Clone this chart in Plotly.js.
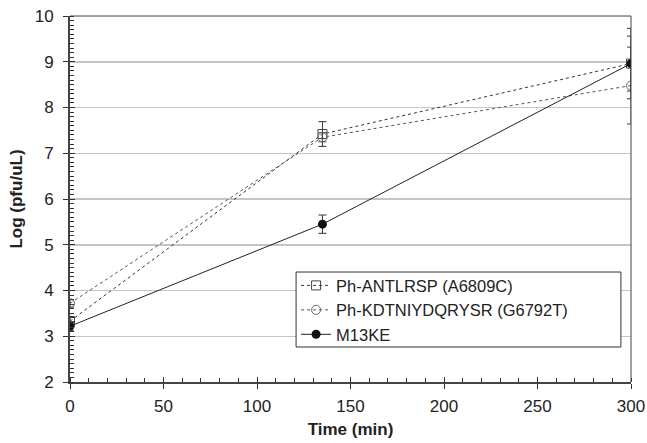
<!DOCTYPE html>
<html>
<head>
<meta charset="utf-8">
<script src="https://cdn.plot.ly/plotly-3.0.1.min.js"></script>
<style>html,body{margin:0;padding:0;background:#fff;}#chart{width:647px;height:443px;}</style>
</head>
<body>
<div id="chart"></div>
<script>
var time = [0, 135, 300];
var seriesNames = ['Ph-ANTLRSP (A6809C)', 'Ph-KDTNIYDQRYSR (G6792T)', 'M13KE'];
var antlrsp = [3.33, 7.42, 8.96];
var antlrspErr = [0.1, 0.27, 0.6];
var kdt = [3.72, 7.35, 8.48];
var kdtErr = [0.08, 0.1, 0.84];
var m13ke = [3.22, 5.45, 8.96];
var m13keErr = [0.1, 0.2, 0.77];
var xTicks = [0, 50, 100, 150, 200, 250, 300];
var yTicks = [2, 3, 4, 5, 6, 7, 8, 9, 10];

var FONT = 'Liberation Sans, Arial, sans-serif';

var traces = [
  {x: time, y: antlrsp, name: seriesNames[0], type: 'scatter', mode: 'lines+markers',
   line: {color: '#333', width: 1, dash: 'dot'},
   marker: {symbol: 'square-open', size: 9, color: '#444', line: {width: 1}},
   error_y: {type: 'data', array: antlrspErr, color: '#333', thickness: 1, width: 4}},
  {x: time, y: kdt, name: seriesNames[1], type: 'scatter', mode: 'lines+markers',
   line: {color: '#555', width: 1, dash: 'dot'},
   marker: {symbol: 'circle-open', size: 9, color: '#666', line: {width: 1}},
   error_y: {type: 'data', array: kdtErr, color: '#444', thickness: 1, width: 4}},
  {x: time, y: m13ke, name: seriesNames[2], type: 'scatter', mode: 'lines+markers',
   line: {color: '#222', width: 1},
   marker: {symbol: 'circle', size: 9, color: '#111'},
   error_y: {type: 'data', array: m13keErr, color: '#333', thickness: 1, width: 4}},
  {x: [0], y: [0], xaxis: 'x2', yaxis: 'y2', showlegend: false, hoverinfo: 'skip', mode: 'markers', marker: {opacity: 0}}
];

var layout = {
  width: 647, height: 443,
  margin: {l: 70, r: 16, t: 16, b: 61},
  paper_bgcolor: '#fff', plot_bgcolor: '#fff',
  font: {family: FONT, color: '#222', size: 17},
  showlegend: true,
  legend: {x: 0.403, xanchor: 'left', y: 0.311, yanchor: 'top',
    borderwidth: 0, bgcolor: 'rgba(0,0,0,0)',
    font: {family: FONT, size: 16.5, color: '#222'}, tracegroupgap: 0, itemwidth: 30},
  xaxis: {range: [0, 300], tickvals: xTicks, ticks: 'outside', ticklen: 5, tickcolor: '#333',
    tickfont: {size: 17}, showgrid: false, zeroline: false,
    showline: true, linecolor: '#444', linewidth: 2, ticklabelstandoff: 3,
    minor: {dtick: 10, ticks: 'inside', ticklen: 4, tickcolor: '#333', showgrid: false},
    title: {text: '<b>Time (min)</b>', font: {size: 17}, standoff: 8}},
  yaxis: {range: [2, 10], tickvals: yTicks, ticks: 'outside', ticklen: 5, tickcolor: '#333',
    tickfont: {size: 17}, showgrid: true, gridcolor: '#c4c4c4', gridwidth: 1.5, zeroline: false,
    showline: true, linecolor: '#444', linewidth: 2, ticklabelstandoff: 6,
    minor: {dtick: 0.1, ticks: 'inside', ticklen: 4, tickcolor: '#333', showgrid: false},
    title: {text: '<b>Log (pfu/uL)</b>', font: {size: 17}, standoff: 8}},
  xaxis2: {overlaying: 'x', range: [0, 300], tickvals: xTicks, ticks: 'inside', ticklen: 5, tickcolor: '#333',
    showticklabels: false, showgrid: false, zeroline: false, showline: false, side: 'bottom', anchor: 'y2'},
  yaxis2: {overlaying: 'y', range: [2, 10], tickvals: yTicks, ticks: 'inside', ticklen: 5, tickcolor: '#333',
    showticklabels: false, showgrid: false, zeroline: false, showline: false, side: 'left', anchor: 'x2'},
  shapes: [
    {type: 'line', xref: 'paper', yref: 'paper', x0: 0, x1: 1, y0: 1, y1: 1, line: {color: '#444', width: 1}},
    {type: 'line', xref: 'paper', yref: 'paper', x0: 1, x1: 1, y0: 0, y1: 1, line: {color: '#444', width: 1}},
    {type: 'rect', xref: 'paper', yref: 'paper', x0: 0.403, x1: 0.982, y0: 0.0956, y1: 0.3005,
     line: {color: '#333', width: 1}, fillcolor: '#fff', layer: 'above'}
  ]
};

Plotly.newPlot('chart', traces, layout, {displayModeBar: false, staticPlot: true});
</script>
</body>
</html>
